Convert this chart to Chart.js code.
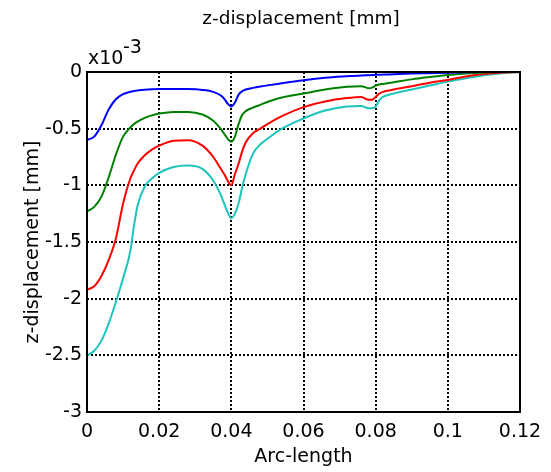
<!DOCTYPE html>
<html>
<head>
<meta charset="utf-8">
<script src="https://cdn.jsdelivr.net/npm/chart.js@4/dist/chart.umd.min.js"></script>
<style>
  html, body { margin: 0; padding: 0; background: #fff; }
  #wrap { width: 551px; height: 472px; }
</style>
</head>
<body>
<div id="wrap"><canvas id="myChart" width="551" height="472"></canvas></div>
<script>
// arc-length positions (shared by every curve)
let arcLength = [0, 0.002, 0.004, 0.006, 0.008, 0.010, 0.012, 0.013, 0.014, 0.016, 0.018, 0.020, 0.024, 0.028, 0.032, 0.035, 0.037, 0.038, 0.039, 0.040, 0.041, 0.042, 0.043, 0.044, 0.046, 0.048, 0.050, 0.054, 0.060, 0.066, 0.072, 0.076, 0.078, 0.079, 0.080, 0.081, 0.082, 0.085, 0.090, 0.095, 0.100, 0.105, 0.110, 0.115, 0.120];

// z-displacement values, units of 1e-3 mm
let blueZ  = [-0.60, -0.57, -0.47, -0.33, -0.24, -0.195, -0.175, -0.168, -0.163, -0.156, -0.152, -0.150, -0.149, -0.150, -0.158, -0.175, -0.205, -0.235, -0.280, -0.305, -0.270, -0.200, -0.170, -0.155, -0.140, -0.128, -0.118, -0.100, -0.072, -0.050, -0.037, -0.030, -0.028, -0.027, -0.025, -0.024, -0.023, -0.019, -0.014, -0.010, -0.006, -0.003, -0.001, -0.0005, 0];
let greenZ = [-1.23, -1.19, -1.10, -0.93, -0.73, -0.57, -0.49, -0.46, -0.438, -0.405, -0.383, -0.367, -0.352, -0.352, -0.375, -0.43, -0.50, -0.545, -0.59, -0.615, -0.57, -0.46, -0.38, -0.345, -0.315, -0.29, -0.265, -0.225, -0.19, -0.155, -0.13, -0.125, -0.143, -0.138, -0.12, -0.11, -0.105, -0.09, -0.065, -0.045, -0.027, -0.014, -0.005, -0.001, 0];
let redZ   = [-1.92, -1.89, -1.80, -1.66, -1.47, -1.16, -0.94, -0.87, -0.81, -0.735, -0.685, -0.65, -0.607, -0.602, -0.65, -0.75, -0.85, -0.90, -0.96, -1.00, -0.90, -0.81, -0.70, -0.62, -0.54, -0.50, -0.46, -0.39, -0.31, -0.26, -0.23, -0.22, -0.245, -0.245, -0.22, -0.19, -0.175, -0.155, -0.125, -0.095, -0.07, -0.04, -0.018, -0.005, 0];
let cyanZ  = [-2.50, -2.46, -2.37, -2.22, -2.03, -1.82, -1.58, -1.36, -1.18, -1.01, -0.94, -0.89, -0.838, -0.825, -0.855, -0.96, -1.08, -1.16, -1.24, -1.29, -1.25, -1.16, -1.02, -0.90, -0.72, -0.64, -0.59, -0.50, -0.41, -0.34, -0.305, -0.30, -0.32, -0.32, -0.305, -0.25, -0.22, -0.19, -0.155, -0.12, -0.085, -0.055, -0.028, -0.01, 0];

let seriesNames = ["blue", "green", "red", "cyan"];
let seriesValues = [blueZ, greenZ, redZ, cyanZ];
let seriesColors = ["#0000ff", "#008000", "#ff0000", "#1cc4bc"];

let xTicks = [0, 0.02, 0.04, 0.06, 0.08, 0.1, 0.12];
let yTicks = [0, -0.5, -1, -1.5, -2, -2.5, -3];

const FONT = "'DejaVu Sans', Verdana, sans-serif";

// title, frame round the plot and exponent label
const framePlugin = {
  id: 'frame',
  afterDraw(chart) {
    const c = chart.ctx, a = chart.chartArea;
    c.save();
    c.strokeStyle = '#000';
    c.lineWidth = 2;
    c.strokeRect(a.left, a.top, a.right - a.left, a.bottom - a.top);
    c.fillStyle = '#000';
    c.textBaseline = 'alphabetic';
    c.font = "18.5px " + FONT;
    c.textAlign = 'center';
    c.fillText('z-displacement [mm]', 301, 24);
    c.font = "19px " + FONT;
    c.textAlign = 'left';
    c.fillText('x10', 88, 64);
    c.fillText('-3', 123, 53);
    c.restore();
  }
};

const datasets = seriesValues.map((vals, i) => ({
  label: seriesNames[i],
  data: arcLength.map((x, j) => ({ x: x, y: vals[j] })),
  borderColor: seriesColors[i],
  backgroundColor: seriesColors[i],
  borderWidth: 2,
  pointRadius: 0,
  showLine: true,
  cubicInterpolationMode: 'monotone',
  fill: false
}));

const config = {
  type: 'scatter',
  data: { datasets: datasets },
  options: {
    responsive: false,
    animation: false,
    layout: { padding: { left: 18, right: 31, top: 72, bottom: 0 } },
    plugins: {
      legend: { display: false },
      tooltip: { enabled: false },
      title: { display: false }
    },
    scales: {
      x: {
        type: 'linear',
        min: 0,
        max: 0.12,
        afterBuildTicks: (axis) => { axis.ticks = xTicks.map(v => ({ value: v })); },
        afterFit: (axis) => { axis.height = 60; },
        ticks: {
          color: '#000',
          padding: 9,
          font: { family: FONT, size: 19 },
          maxRotation: 0,
          callback: (v) => String(+v.toFixed(2))
        },
        grid: { color: '#000', lineWidth: 2, drawTicks: false },
        border: { display: false, dash: [2, 2] },
        title: {
          display: true,
          text: 'Arc-length',
          color: '#000',
          font: { family: FONT, size: 19 },
          padding: { top: 4, bottom: 4 }
        }
      },
      y: {
        type: 'linear',
        min: -3,
        max: 0,
        afterBuildTicks: (axis) => { axis.ticks = yTicks.map(v => ({ value: v })); },
        afterFit: (axis) => { axis.width = 69; },
        ticks: {
          color: '#000',
          padding: 5,
          font: { family: FONT, size: 19 },
          callback: (v) => String(+v.toFixed(1))
        },
        grid: { color: '#000', lineWidth: 2, drawTicks: false },
        border: { display: false, dash: [2, 2] },
        title: {
          display: true,
          text: 'z-displacement [mm]',
          color: '#000',
          font: { family: FONT, size: 19 },
          padding: { top: 4, bottom: 4 }
        }
      }
    }
  },
  plugins: [framePlugin]
};

const ctx = document.getElementById('myChart').getContext('2d');
const myChart = new Chart(ctx, config);
</script>
</body>
</html>
